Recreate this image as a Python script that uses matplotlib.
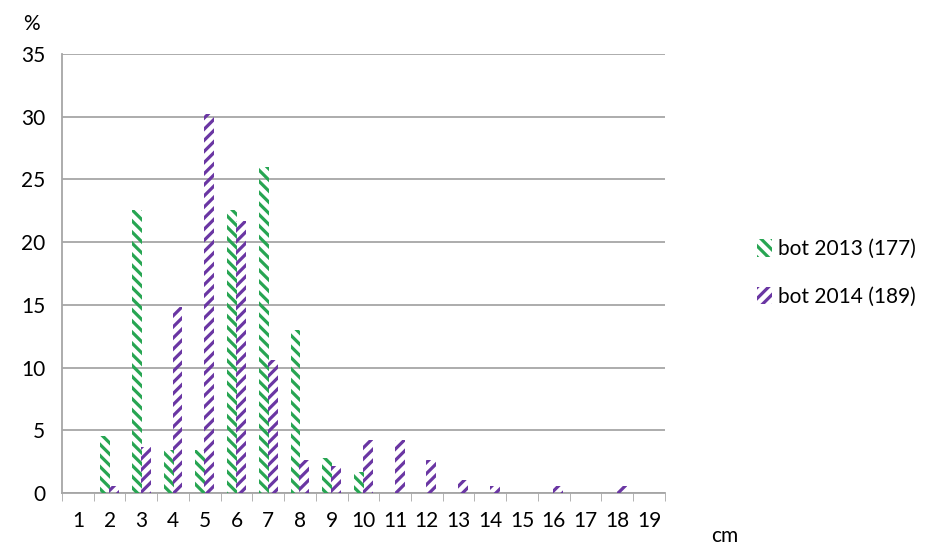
import numpy as np
import matplotlib.pyplot as plt

plt.rcParams['font.family'] = ['Lato', 'DejaVu Sans']
plt.rcParams['hatch.linewidth'] = 2.3

categories = [str(i) for i in range(1, 20)]
bot_2013 = [0, 4.52, 22.6, 3.39, 3.39, 22.6, 26.0, 13.0, 2.82, 1.69,
            0, 0, 0, 0, 0, 0, 0, 0, 0]
bot_2014 = [0, 0.53, 3.70, 14.8, 30.2, 21.7, 10.6, 2.65, 2.12, 4.23,
            4.23, 2.65, 1.06, 0.53, 0, 0.53, 0, 0.53, 0]

green = '#27a552'
purple = '#6a36a3'
grid_col = '#a6a6a6'

fig = plt.figure(figsize=(9.29, 5.49), dpi=100)
ax = fig.add_axes([0.0667, 0.102, 0.649, 0.7996])

x = np.arange(len(categories))
w = 0.31
b1 = ax.bar(x - 0.14, bot_2013, w, facecolor='none', edgecolor=green,
            hatch='\\\\\\', linewidth=0, label='bot 2013 (177)', zorder=3)
b2 = ax.bar(x + 0.14, bot_2014, w, facecolor='none', edgecolor=purple,
            hatch='///', linewidth=0, label='bot 2014 (189)', zorder=3)

ax.set_xlim(-0.5, len(categories) - 0.5)
ax.set_ylim(0, 35)
ax.set_yticks(range(0, 36, 5))
ax.set_xticks(x)
ax.set_xticklabels(categories)
ax.set_xticks(np.arange(-0.5, len(categories), 1), minor=True)
ax.tick_params(axis='x', which='major', length=0, pad=13, labelsize=15)
ax.tick_params(axis='x', which='minor', length=6, color=grid_col, direction='out')
ax.tick_params(axis='y', length=0, pad=12, labelsize=15)

ax.grid(axis='y', color=grid_col, linewidth=1.3, zorder=0)
ax.set_axisbelow(True)
for s in ['top', 'right']:
    ax.spines[s].set_visible(False)
ax.spines['left'].set_color(grid_col)
ax.spines['bottom'].set_color(grid_col)
ax.spines['left'].set_linewidth(1.3)
ax.spines['bottom'].set_linewidth(1.3)

fig.text(0.025, 0.945, '%', fontsize=15)
fig.text(0.765, 0.005, 'cm', fontsize=15, va='bottom')

leg = fig.legend(handles=[b1, b2], loc='center left', bbox_to_anchor=(0.795, 0.503),
                 frameon=False, fontsize=15, handlelength=0.7, handleheight=0.9,
                 handletextpad=0.3, labelspacing=1.3)

fig.savefig('out.png', dpi=100)
